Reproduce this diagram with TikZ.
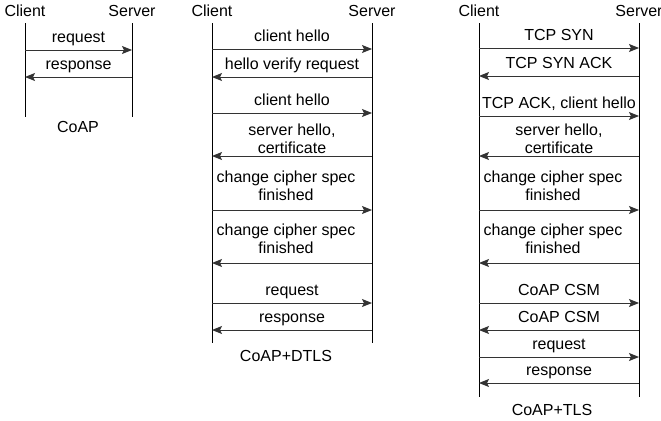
\documentclass[tikz,border=0pt]{standalone}
\usepackage{fontspec}
\setmainfont{Liberation Sans}
\usetikzlibrary{arrows.meta,positioning}

\begin{document}
\begin{tikzpicture}[x=0.75pt,y=-0.75pt,font=\fontsize{12}{13.6}\selectfont]
    \tikzset{party/.style={inner sep=1pt},
      life/.style={draw=black,line width=0.75pt},
      msg/.style={draw=black!80,line width=0.75pt,-{Stealth[length=7.5pt,width=6pt,inset=1.5pt]}},
      lbl/.style={above,align=center,inner sep=3pt,text depth=2.6pt,yshift=-0.6pt},
      lbltwo/.style={lbl,yshift=-3.3pt},
      lblcs/.style={lbl,yshift=1.6pt,xshift=-4.5pt},
      caption/.style={inner sep=1pt}}
    \useasboundingbox (0,0) rectangle (661,421);
    % CoAP
    \node[party] (c1) at (25,11) {Client};
    \node[party] (s1) at (132,11) {Server};
    \coordinate (c1e) at (25,117);
    \coordinate (s1e) at (132,117);
    \draw[life] (c1 |- 0,23) -- (c1e);
    \draw[life] (s1 |- 0,23) -- (s1e);
    \coordinate (c1a) at (25,50);  \coordinate (s1a) at (132,50);
    \coordinate (c1b) at (25,77);  \coordinate (s1b) at (132,77);
    \draw[msg] (c1a) -- node[lbl] {request} (s1a);
    \draw[msg] (s1b) -- node[lbl] {response} (c1b);
    \node[caption] (t1) at (78,127) {CoAP};
    % CoAP+DTLS
    \node[party] (c2) at (212,11) {Client};
    \node[party] (s2) at (372,11) {Server};
    \coordinate (c2e) at (212,343);
    \coordinate (s2e) at (372,343);
    \draw[life] (c2 |- 0,23) -- (c2e);
    \draw[life] (s2 |- 0,23) -- (s2e);
    \foreach \i/\y/\d/\s/\txt in {1/49/r/lbl/{client hello},2/77/l/lbl/{hello verify request},
        3/113/r/lbl/{client hello},4/156/l/lbltwo/{server hello,\\certificate},
        5/210/r/lblcs/{change cipher spec\\finished},6/263/l/lblcs/{change cipher spec\\finished},
        7/303/r/lbl/{request},8/330/l/lbl/{response}}{
      \coordinate (c2m\i) at (212,\y);
      \coordinate (s2m\i) at (372,\y);
      \if\d r
        \draw[msg] (c2m\i) -- node[\s] {\txt} (s2m\i);
      \else
        \draw[msg] (s2m\i) -- node[\s] {\txt} (c2m\i);
      \fi
    }
    \node[caption] (t2) at (286,356) {CoAP+DTLS};
    % CoAP+TLS
    \node[party] (c3) at (479,11) {Client};
    \node[party] (s3) at (639,11) {Server};
    \coordinate (c3e) at (479,397);
    \coordinate (s3e) at (639,397);
    \draw[life] (c3 |- 0,23) -- (c3e);
    \draw[life] (s3 |- 0,23) -- (s3e);
    \foreach \i/\y/\d/\s/\txt in {1/48/r/lbl/{TCP SYN},2/76/l/lbl/{TCP SYN ACK},
        3/116/r/lbl/{TCP ACK, client hello},4/156/l/lbltwo/{server hello,\\certificate},
        5/210/r/lblcs/{change cipher spec\\finished},6/263/l/lblcs/{change cipher spec\\finished},
        7/303/r/lbl/{CoAP CSM},8/330/l/lbl/{CoAP CSM},
        9/357/r/lbl/{request},10/383/l/lbl/{response}}{
      \coordinate (c3m\i) at (479,\y);
      \coordinate (s3m\i) at (639,\y);
      \if\d r
        \draw[msg] (c3m\i) -- node[\s] {\txt} (s3m\i);
      \else
        \draw[msg] (s3m\i) -- node[\s] {\txt} (c3m\i);
      \fi
    }
    \node[caption] (t3) at (552,410) {CoAP+TLS};
\end{tikzpicture}
\end{document}
